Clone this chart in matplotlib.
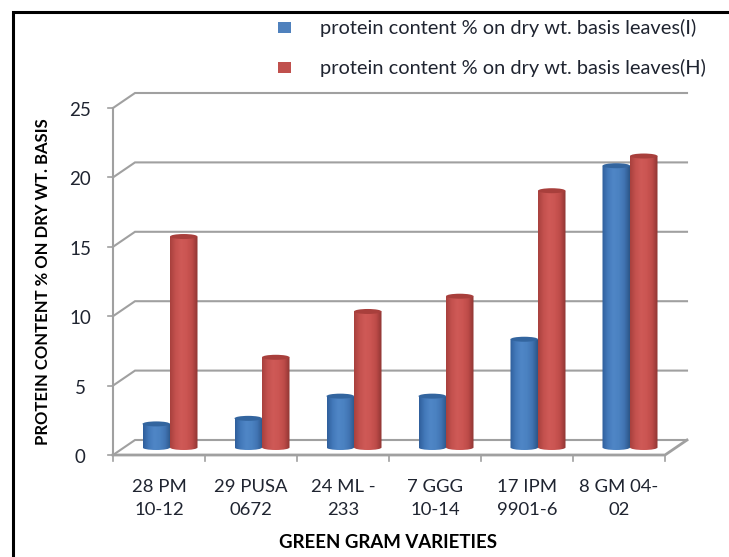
import numpy as np
import matplotlib
matplotlib.use("Agg")
import matplotlib.pyplot as plt
from matplotlib.lines import Line2D
from matplotlib.patches import Ellipse, Rectangle, PathPatch
from matplotlib.path import Path
from matplotlib.colors import LinearSegmentedColormap

categories = ["28 PM\n10-12", "29 PUSA\n0672", "24 ML -\n233", "7 GGG\n10-14", "17 IPM\n9901-6", "8 GM 04-\n02"]
leaves_i = [1.7, 2.1, 3.7, 3.7, 7.8, 20.3]
leaves_h = [15.2, 6.5, 9.8, 10.9, 18.5, 21.0]
y_ticks = [0, 5, 10, 15, 20, 25]
legend_labels = ["protein content % on dry wt. basis leaves(I)", "protein content % on dry wt. basis leaves(H)"]
x_title = "GREEN GRAM VARIETIES"
y_title = "PROTEIN CONTENT % ON DRY WT. BASIS"

W, H = 729, 557
FONT = "Lato"
TEXT = "#1f2430"
GRID = "#a0a0a0"
fig = plt.figure(figsize=(W / 100, H / 100), dpi=100, facecolor="white")
ax = fig.add_axes([113 / W, 1 - 455 / H, 552 / W, 347 / H])
n = len(categories)
ax.set_xlim(0, n)
ax.set_ylim(0, 25)
ax.axis("off")

px_x = n / 552
px_y = 25 / 347
dx, dy = 22 * px_x, 15 * px_y

# walls and gridlines
for v in y_ticks:
    ax.plot([0, dx, n + dx], [v, v + dy, v + dy], color=GRID, lw=1.5, clip_on=False, zorder=1, solid_joinstyle="miter")
    ax.plot([-5 * px_x, 0], [v, v], color=GRID, lw=1.2, clip_on=False, zorder=1)
ax.plot([0, 0], [0, 25], color=GRID, lw=1.5, clip_on=False, zorder=1)
ax.plot([0, n, n + dx], [0, 0, dy], color=GRID, lw=2, clip_on=False, zorder=1)
for i in range(n + 1):
    ax.plot([i, i], [0, -6 * px_y], color=GRID, lw=1.2, clip_on=False, zorder=1)


def cylinder(cx, w, v, base, colors, top_color, z):
    eh = 5 * px_y
    hw = w / 2
    b = base
    t = base + v
    k = 0.5523
    verts = [(cx - hw, t), (cx - hw, b), (cx - hw, b - k * eh / 2), (cx - k * hw, b - eh / 2), (cx, b - eh / 2),
             (cx + k * hw, b - eh / 2), (cx + hw, b - k * eh / 2), (cx + hw, b), (cx + hw, t), (cx - hw, t)]
    codes = [Path.MOVETO, Path.LINETO, Path.CURVE4, Path.CURVE4, Path.CURVE4,
             Path.CURVE4, Path.CURVE4, Path.CURVE4, Path.LINETO, Path.CLOSEPOLY]
    clip = PathPatch(Path(verts, codes), transform=ax.transData, fc="none", ec="none")
    ax.add_patch(clip)
    cmap = LinearSegmentedColormap.from_list("c", colors)
    im = ax.imshow(np.linspace(0, 1, 64)[None, :], extent=(cx - hw, cx + hw, b - eh, t), cmap=cmap,
                   aspect="auto", zorder=z, interpolation="bilinear")
    im.set_clip_path(clip)
    ax.add_patch(Ellipse((cx, t), w, eh, fc=top_color, ec="none", zorder=z + 0.1, clip_on=False))


blue = ["#2f5f9c", "#4379ba", "#4f86c6", "#4b82c2", "#4174b3", "#2c5688"]
red = ["#a8413e", "#c4514e", "#cf5a57", "#cb5552", "#bd4b48", "#8f3533"]
w = 27.5 * px_x
base = 7.5 * px_y
shift = 10.5 * px_x
for i in range(n):
    cx = i + 0.5 + shift
    cylinder(cx - w / 2 + 0.5 * px_x, w, leaves_i[i], base, blue, "#33659f", 3 + i)
    cylinder(cx + w / 2 + 0.5 * px_x, w, leaves_h[i], base, red, "#a83f3c", 3.5 + i)

# tick labels
for v in y_ticks:
    ax.text(-33 * px_x, v - 2.5 * px_y, str(v), ha="center", va="center", fontsize=13.5, color=TEXT, family=FONT, clip_on=False)
for i, c in enumerate(categories):
    ax.text(i + 0.5, -24.5 * px_y, c, ha="center", va="top", fontsize=13.3, color=TEXT, family=FONT,
            linespacing=1.5, clip_on=False)


def P(x, y):
    return x / W, 1 - y / H


fig.text(*P(388, 542), x_title, ha="center", va="center", fontsize=13.4, fontweight="bold", color="black", family=FONT)
fig.text(*P(43, 282), y_title, ha="center", va="center", rotation=90, fontsize=12, fontweight="bold", color="black", family=FONT)

# legend
for y, col, lab in zip([28, 68], ["#4f81bd", "#c0504d"], legend_labels):
    fig.add_artist(Rectangle((278 / W, 1 - (y + 5) / H), 13 / W, 11 / H, transform=fig.transFigure, fc=col, ec="none"))
    fig.text(*P(320, y), lab, ha="left", va="center", fontsize=14.45, color=TEXT, family=FONT)

# outer frame: only the left and top edges are visible in the crop
fig.add_artist(Line2D([13 / W, 13 / W, 1], [0, 1 - 11.5 / H, 1 - 11.5 / H], transform=fig.transFigure,
                      color="black", lw=2.2, solid_joinstyle="miter"))
fig.savefig("out.png", dpi=100)
